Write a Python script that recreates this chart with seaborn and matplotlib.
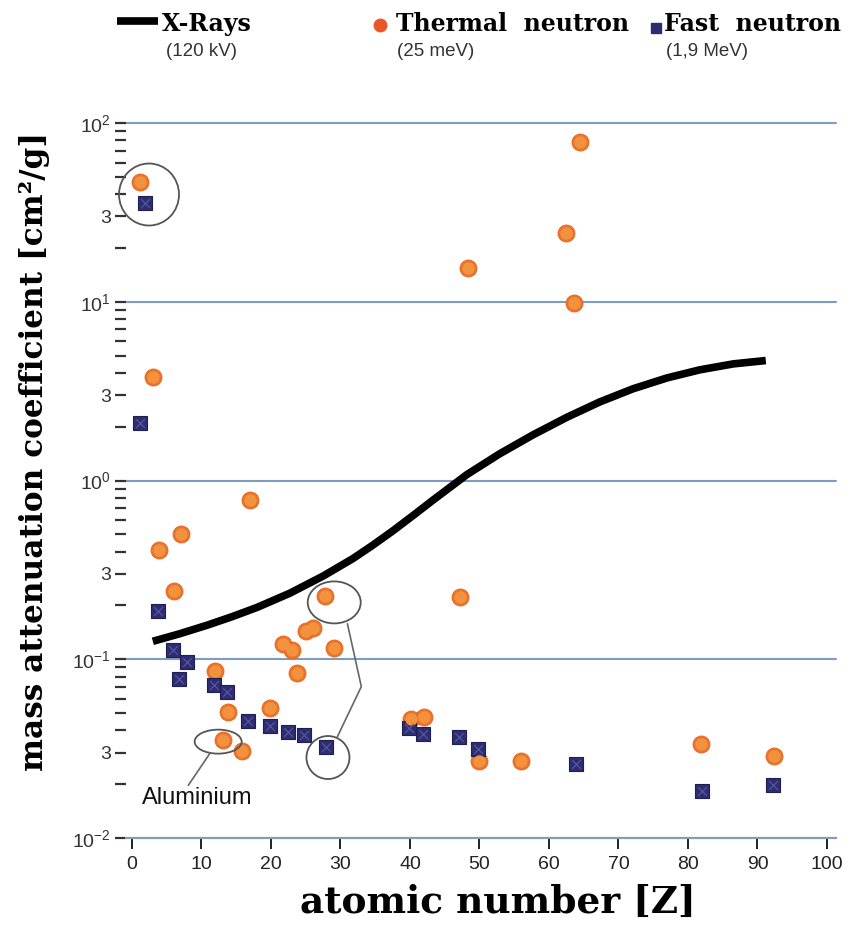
import numpy as np
import pandas as pd
import matplotlib
matplotlib.use('Agg')
import matplotlib.pyplot as plt
import seaborn as sns
from matplotlib.patches import Ellipse
from matplotlib.lines import Line2D
from matplotlib.transforms import IdentityTransform
from matplotlib.ticker import FixedLocator, LogLocator, FuncFormatter

# --- donnees ---
# courbe X-Rays (120 kV)
xray_z = [3.0, 6.9, 10.8, 14.4, 18.0, 22.7, 27.5, 31.8, 34.7, 37.6, 40.4, 43.3, 48.2, 52.9,
          57.7, 62.6, 67.3, 72.1, 77.0, 81.7, 86.5, 91.2]
xray_mu = [0.126, 0.139, 0.155, 0.173, 0.195, 0.234, 0.292, 0.366, 0.436, 0.525, 0.635, 0.776,
           1.08, 1.41, 1.80, 2.26, 2.75, 3.26, 3.75, 4.16, 4.49, 4.69]

# neutrons thermiques (25 meV)
thermal_z = [1.15, 3.0, 3.9, 6.0, 7.05, 11.9, 13.1, 13.8, 15.8, 17.0, 19.9, 21.7, 23.0, 23.7, 25.0,
             26.0, 27.8, 29.1, 40.1, 42.0, 47.2, 48.3, 49.9, 56.0, 62.4, 63.6, 64.5, 81.9, 92.4]
thermal_mu = [47.0, 3.8, 0.41, 0.242, 0.505, 0.0865, 0.0353, 0.051, 0.0308, 0.773, 0.0531, 0.122, 0.112,
              0.0833, 0.143, 0.150, 0.227, 0.116, 0.0466, 0.0473, 0.224, 15.4, 0.0271, 0.0271, 24.1,
              9.9, 77.9, 0.0337, 0.0286]

# neutrons rapides (1,9 MeV)
fast_z = [1.87, 1.15, 3.7, 5.9, 6.76, 7.9, 11.8, 13.7, 16.7, 19.9, 22.4, 24.7, 27.9,
          39.9, 41.9, 47.0, 49.8, 63.9, 82.0, 92.2]
fast_mu = [35.9, 2.11, 0.187, 0.113, 0.078, 0.097, 0.0722, 0.066, 0.0453, 0.0423, 0.0394, 0.0377, 0.0321,
           0.041, 0.0384, 0.0365, 0.0316, 0.0258, 0.0184, 0.0197]

x_ticks = list(range(0, 101, 10))
y_major = [0.01, 0.1, 1, 10, 100]

# annotations (centre en donnees, taille en pixels)
circle_z = [2.45, 29.1, 28.2, 12.4]
circle_mu = [39.8, 0.208, 0.0282, 0.0346]
circle_w = [60, 53, 43, 47]
circle_h = [62, 42, 43, 24]

link_z = [31.0, 33.0, 29.5]
link_mu = [0.158, 0.0703, 0.0365]
alu_link_z = [11.2, 8.1]
alu_link_mu = [0.0297, 0.0197]

sns.set_theme(style="white")
plt.rcParams['font.family'] = ['Liberation Sans', 'DejaVu Sans']
plt.rcParams['mathtext.default'] = 'regular'

SERIF = 'DejaVu Serif'
W, H = 850, 936
fig = plt.figure(figsize=(W / 100, H / 100), dpi=100)
ax = fig.add_axes([126 / W, 1 - 838 / H, (836 - 126) / W, (838 - 123) / H])

ax.set_yscale('log')
ax.set_ylim(0.01, 100)
ax.set_xlim(-0.86, 101.3)

grid_col = '#7E9CC0'

# courbe X-Rays
sns.lineplot(x=xray_z, y=xray_mu, ax=ax, color='black', lw=5.5, sort=False,
             estimator=None, zorder=3)
for l in ax.get_lines():
    l.set_solid_capstyle('butt')
    l.set_solid_joinstyle('round')

# points (boule orange legerement ombree, carre bleu nuit)
sns.scatterplot(x=thermal_z, y=thermal_mu, ax=ax, marker='o', s=150, color='#EC7329',
                edgecolor='#E4661F', linewidth=0.6, zorder=5)
ax.scatter(thermal_z, thermal_mu, marker='o', s=80, color='#F2913E', linewidth=0, zorder=5.5)
sns.scatterplot(x=fast_z, y=fast_mu, ax=ax, marker='s', s=105, color='#2E2D72',
                edgecolor='#1F1E55', linewidth=0.8, zorder=5)
ax.scatter(fast_z, fast_mu, marker='x', s=40, color='#55559C', linewidth=0.9, zorder=6)

# axes
ax.set_xticks(x_ticks)
ax.set_xticklabels([str(t) for t in x_ticks])
ax.yaxis.set_major_locator(FixedLocator(y_major))
ax.yaxis.set_major_formatter(FuncFormatter(lambda v, p: r'$10^{%d}$' % round(np.log10(v))))
ax.yaxis.set_minor_locator(LogLocator(base=10, subs=np.arange(2, 10), numticks=30))


def minor_fmt(v, p):
    m = v / 10 ** np.floor(np.log10(v) + 1e-9)
    return '3' if abs(m - 3) < 0.01 else ''


ax.yaxis.set_minor_formatter(FuncFormatter(minor_fmt))

ax.tick_params(axis='y', which='both', direction='out', length=8, width=1.6, color='#333333',
               labelsize=14, labelcolor='#333333', pad=3, left=True)
ax.tick_params(axis='x', which='major', direction='out', length=8, width=1.4, color='#222222',
               labelsize=14, labelcolor='#222222', pad=5, bottom=True)

ax.yaxis.grid(True, which='major', color=grid_col, lw=1.5)
ax.xaxis.grid(False)
for gl in ax.get_ygridlines():
    gl.set_clip_on(False)
for s in ['left', 'top', 'right']:
    ax.spines[s].set_visible(False)
ax.spines['bottom'].set_color(grid_col)
ax.spines['bottom'].set_linewidth(1.5)

ax.set_xlabel('atomic number [Z]', family=SERIF, fontweight='bold', fontsize=27, color='black')
ax.xaxis.set_label_coords(0.524, -0.064)
ax.set_ylabel('mass attenuation coefficient [cm²/g]', family=SERIF, fontweight='bold',
              fontsize=22.4, color='black')
ax.yaxis.set_label_coords(-0.107, 0.54)

# ellipses d'annotation
for cz, cm, w, h in zip(circle_z, circle_mu, circle_w, circle_h):
    cx, cy = ax.transData.transform((cz, cm))
    ax.add_patch(Ellipse((cx, cy), w, h, transform=IdentityTransform(), fill=False,
                         edgecolor='#555555', lw=1.3, clip_on=False, zorder=6))
ax.plot(link_z, link_mu, color='#666666', lw=1.2, zorder=6)
ax.plot(alu_link_z, alu_link_mu, color='#666666', lw=1.2, zorder=6)
ax.text(9.4, 0.0168, 'Aluminium', ha='center', va='center', fontsize=17, color='#111111', zorder=7)

# legende du haut
fig.add_artist(Line2D([117 / W, 158 / W], [1 - 21 / H] * 2, transform=fig.transFigure,
                      color='black', lw=5.5, solid_capstyle='butt'))
fig.add_artist(Line2D([380 / W], [1 - 25 / H], transform=fig.transFigure, marker='o',
                      markersize=9, color='#E8562A', markeredgecolor='#E8562A'))
fig.add_artist(Line2D([656 / W], [1 - 28 / H], transform=fig.transFigure, marker='s',
                      markersize=7, color='#2E2D72', markeredgecolor='#2E2D72'))

leg_x = [162, 396, 664]
leg_title = ['X-Rays', 'Thermal  neutron', 'Fast  neutron']
leg_sub = ['(120 kV)', '(25 meV)', '(1,9 MeV)']
leg_sub_x = [166, 397, 666]
for x, t in zip(leg_x, leg_title):
    fig.text(x / W, 1 - 31 / H, t, family=SERIF, fontweight='bold', fontsize=17,
             ha='left', va='baseline', color='black')
for x, t in zip(leg_sub_x, leg_sub):
    fig.text(x / W, 1 - 56 / H, t, fontsize=13.5, ha='left', va='baseline', color='#333333')

fig.savefig('out.png', dpi=100)
